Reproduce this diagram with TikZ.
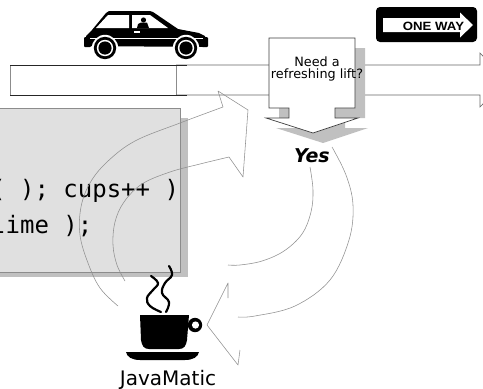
\documentclass[tikz,border=0pt]{standalone}
\usepackage{fontspec}
\setmainfont{DejaVu Sans}
\setmonofont{DejaVu Sans Mono}
\newfontfamily\signfont{Liberation Sans}
\definecolor{codebg}{HTML}{E0E0E0}
\definecolor{dropgray}{HTML}{C0C0C0}
\definecolor{rim}{HTML}{8C8C8C}
\definecolor{thin}{HTML}{909090}
\begin{document}
\begin{tikzpicture}[x=1pt,y=-1pt,
  flow/.style={draw=thin,line width=0.55pt,line join=round},
  roadline/.style={draw=black!60,line width=0.6pt},
  codeline/.style={anchor=base west,inner sep=0pt,font=\ttfamily\fontsize{24}{24}\selectfont},
  steam/.style={draw=black,line width=2.2pt,line cap=round}]
\useasboundingbox (0,0) rectangle (483,389);
\clip (0,0) rectangle (483,389);
\fill[white] (0,0) rectangle (483,389);

% road: plain strip on the left, long one-way arrow to the right
\draw[draw=black!45,line width=0.6pt] (10,65) rectangle (176,95);
\draw[roadline] (176,65) -- (480,65) -- (480,53) -- (506,80) -- (480,107) -- (480,95) -- (176,95);
\draw[draw=black!85,line width=0.8pt] (10,65) -- (187,65) (10,95) -- (187,95);

% code panel with drop shadow
\fill[dropgray] (-10,118) rectangle (188,277);
\fill[codebg] (-10,108) rectangle (180,272);
\draw[rim,line width=0.7pt] (-10,108) -- (180,108) -- (180,272) -- (-10,272);
\node[codeline] (code1) at (-9,197) {( ); cups++ )};
\node[codeline] (code2) at (-9,233) {lime );};

% question callout with downward pointer and shadow
\def\callout{(269,38) -- (355,38) -- (355,108) -- (335,108) -- (335,118) -- (358,118) -- (313,133) -- (266,118) -- (289,118) -- (289,108) -- (269,108) -- cycle}
\fill[dropgray,shift={(10,10)}] \callout;
\filldraw[fill=white,draw=black!75,line width=0.7pt] \callout;
\node[align=center,inner sep=0pt,font=\fontsize{12.8}{12}\selectfont] (q) at (317,69) {Need a\\refreshing lift?};

% curved arrow rising from the cup up to the road
\draw[flow] plot[smooth,tension=0.6] coordinates {(118,306) (100,288) (88,263) (80,235) (81,207) (90,183) (107,162) (135,141) (180,123) (223,107)};
\draw[flow] plot[smooth,tension=0.6] coordinates {(125,281) (117,265) (113,245) (115,222) (124,202) (142,184) (170,172) (200,164) (229,157)};
\draw[flow] (223,107) -- (218,91) -- (248,110) -- (243,177) -- (229,157);

% curved arrow descending from the answer back to the cup
\draw[flow] plot[smooth,tension=0.6] coordinates {(332,147) (346,175) (353,205) (349,240) (330,280) (295,306) (255,316) (238,317)};
\draw[flow] plot[smooth,tension=0.6] coordinates {(310,167) (313,190) (311,212) (302,234) (284,251) (262,261) (240,265) (228,265)};
\draw[flow] (228,298) -- (228,283) -- (207,325) -- (238,365) -- (240,350);

% answer
\node[inner sep=0pt,font=\fontsize{19}{19}\selectfont\bfseries\itshape] (yes) at (312,156) {Yes};

% car
\begin{scope}
  \fill[black] (86,46) -- (86,36) -- (92,30) -- (106,13) -- (109,11) -- (150,11) -- (153,12) -- (178,29) -- (199,33) -- (205,36) -- (207,45) -- (203,47) -- cycle;
  \fill[black,rounded corners=1pt] (84,37) rectangle (91,47);
  \fill[black,rounded corners=1pt] (202,37) rectangle (208,47);
  \fill[white] (96,28) -- (108,15) -- (129,15) -- (129,28) -- cycle;
  \fill[white] (132,15) -- (150,15) -- (168,28) -- (132,28) -- cycle;
  \fill[black] (143.5,20) circle (2.6);
  \fill[black] (137,28) -- (138,24) -- (141,22.5) -- (147,22.5) -- (149,28) -- cycle;
  \fill[white] (134,31) rectangle (140,33);
  \draw[white,line width=0.5pt] (90,38) -- (203,38);
  \foreach \cx in {105,186}{
    \fill[white] (\cx,48) circle (13.2);
    \fill[black] (\cx,48) circle (11.2);
    \fill[white] (\cx,48) circle (8.2);
    \fill[black] (\cx,48) circle (6.6);
  }
\end{scope}

% one-way sign
\fill[black,rounded corners=4pt] (376,7) rectangle (477,42);
\fill[white] (383,18) -- (460,18) -- (460,12.5) -- (473,25) -- (460,37.5) -- (460,32) -- (383,32) -- cycle;
\node[inner sep=0pt,anchor=base,xscale=1.1,font=\signfont\bfseries\fontsize{12}{12}\selectfont] (sign) at (433.5,30.5) {ONE WAY};

% coffee cup with steam
\draw[steam] plot[smooth,tension=0.7] coordinates {(161,312) (150,306) (147,298) (153,290) (158,283) (151,276)};
\draw[steam] plot[smooth,tension=0.7] coordinates {(166,312) (169,302) (162,293) (165,283) (172,275) (169,266)};
\fill[black] (140,315) -- (189,315) -- (187,340) .. controls (186,346) and (184,349) .. (179,349) -- (149,349) .. controls (144,349) and (142,346) .. (141,340) -- cycle;
\fill[black] (195,325) circle (7.2);
\fill[white] (195.5,325) circle (3.6);
\fill[black] (126,352) -- (199,352) .. controls (198,357) and (193,360) .. (185,360) -- (140,360) .. controls (132,360) and (127,357) .. (126,352) -- cycle;
\node[inner sep=0pt,anchor=base,font=\fontsize{20}{20}\selectfont] (brand) at (168,385) {JavaMatic};
\end{tikzpicture}
\end{document}
